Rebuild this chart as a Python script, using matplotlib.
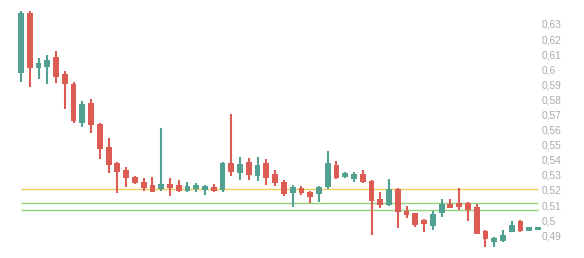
import matplotlib
matplotlib.use("Agg")
import matplotlib.pyplot as plt
import numpy as np

# OHLC values
opens = [0.5975, 0.6375, 0.6008, 0.6015, 0.6081, 0.5968, 0.5902, 0.5643, 0.5776, 0.5636,
         0.5484, 0.5378, 0.5331, 0.5285, 0.5251, 0.5232, 0.5205, 0.5238, 0.5232, 0.5192,
         0.5212, 0.5205, 0.5218, 0.5198, 0.5378, 0.5311, 0.5384, 0.5291, 0.5378, 0.5305,
         0.5251, 0.5178, 0.5212, 0.5185, 0.5172, 0.5218, 0.5364, 0.5291, 0.5271, 0.5305,
         0.5258, 0.5139, 0.5099, 0.5205, 0.5059, 0.5046, 0.4993, 0.4960, 0.5046, 0.5106,
         0.5112, 0.5112, 0.5086, 0.4926, 0.4860, 0.4860, 0.4920, 0.4993, 0.4940, 0.4944]
closes = [0.6375, 0.6008, 0.6041, 0.6061, 0.5948, 0.5902, 0.5656, 0.5769, 0.5630, 0.5471,
          0.5364, 0.5318, 0.5278, 0.5245, 0.5212, 0.5185, 0.5238, 0.5218, 0.5192, 0.5225,
          0.5225, 0.5225, 0.5192, 0.5378, 0.5318, 0.5371, 0.5298, 0.5364, 0.5278, 0.5245,
          0.5172, 0.5218, 0.5178, 0.5152, 0.5218, 0.5378, 0.5278, 0.5311, 0.5305, 0.5251,
          0.5125, 0.5099, 0.5205, 0.5052, 0.5032, 0.4966, 0.4979, 0.5039, 0.5106, 0.5086,
          0.5086, 0.5066, 0.4907, 0.4873, 0.4873, 0.4900, 0.4966, 0.4926, 0.4946, 0.4946]
highs = [0.6384, 0.6384, 0.6074, 0.6094, 0.6121, 0.5988, 0.5915, 0.5789, 0.5802, 0.5643,
         0.5544, 0.5384, 0.5351, 0.5291, 0.5278, 0.5285, 0.5610, 0.5278, 0.5265, 0.5251,
         0.5245, 0.5232, 0.5238, 0.5384, 0.5703, 0.5417, 0.5411, 0.5417, 0.5404, 0.5331,
         0.5265, 0.5232, 0.5225, 0.5192, 0.5225, 0.5457, 0.5391, 0.5318, 0.5318, 0.5331,
         0.5265, 0.5185, 0.5271, 0.5212, 0.5092, 0.5046, 0.5006, 0.5059, 0.5139, 0.5139,
         0.5212, 0.5119, 0.5106, 0.4933, 0.4887, 0.4933, 0.4993, 0.5000, 0.4946, 0.4946]
lows = [0.5915, 0.5882, 0.5935, 0.5902, 0.5908, 0.5736, 0.5643, 0.5616, 0.5577, 0.5404,
        0.5311, 0.5179, 0.5218, 0.5238, 0.5192, 0.5185, 0.5192, 0.5159, 0.5185, 0.5185,
        0.5185, 0.5165, 0.5185, 0.5185, 0.5291, 0.5265, 0.5265, 0.5258, 0.5232, 0.5225,
        0.5159, 0.5086, 0.5165, 0.5112, 0.5119, 0.5205, 0.5271, 0.5278, 0.5251, 0.5245,
        0.4900, 0.5079, 0.5092, 0.4946, 0.5013, 0.4953, 0.4920, 0.4933, 0.5019, 0.5086,
        0.5066, 0.4993, 0.4907, 0.4820, 0.4820, 0.4853, 0.4920, 0.4920, 0.4940, 0.4940]

levels = [0.5205, 0.5112, 0.5066]
level_colors = ["#ebcf5c", "#93d27a", "#93d27a"]
yticks = [0.49, 0.50, 0.51, 0.52, 0.53, 0.54, 0.55, 0.56, 0.57, 0.58, 0.59, 0.60, 0.61, 0.62, 0.63]
ytick_labels = ["0,49", "0,5", "0,51", "0,52", "0,53", "0,54", "0,55", "0,56", "0,57", "0,58",
                "0,59", "0,6", "0,61", "0,62", "0,63"]

up_color = "#51a090"
down_color = "#dc5c54"

fig = plt.figure(figsize=(5.84, 2.58), dpi=100)
ax = fig.add_axes([0, 0, 542 / 584, 1])

n = len(opens)
x = np.arange(n)
o = np.array(opens)
c = np.array(closes)
colors = [up_color if cc >= oo else down_color for oo, cc in zip(o, c)]

# level lines from first to last candle
for lv, lc in zip(levels, level_colors):
    ax.hlines(lv, x[0], x[-1], color=lc, linewidth=1.0, zorder=1)

# wicks
ax.vlines(x, lows, highs, color=colors, linewidth=1.5, zorder=2)

# bodies, with a minimum visible height
min_h = 0.0025
bottoms = np.minimum(o, c)
heights = np.abs(c - o)
adj = np.where(heights < min_h, (min_h - heights) / 2, 0)
ax.bar(x, np.maximum(heights, min_h), bottom=bottoms - adj, width=0.66,
       color=colors, linewidth=0, zorder=3)

ax.set_xlim(-2.396, (542 - 21) / 8.763)
ax.set_ylim(0.4749, 0.6459)

ax.yaxis.tick_right()
ax.set_yticks(yticks)
ax.set_yticklabels(ytick_labels, family="Liberation Sans", fontsize=7.3, color="#ababab")
ax.tick_params(axis="y", length=0, pad=0)
ax.set_xticks([])
for s in ax.spines.values():
    s.set_visible(False)

fig.savefig("out.png", dpi=100)
